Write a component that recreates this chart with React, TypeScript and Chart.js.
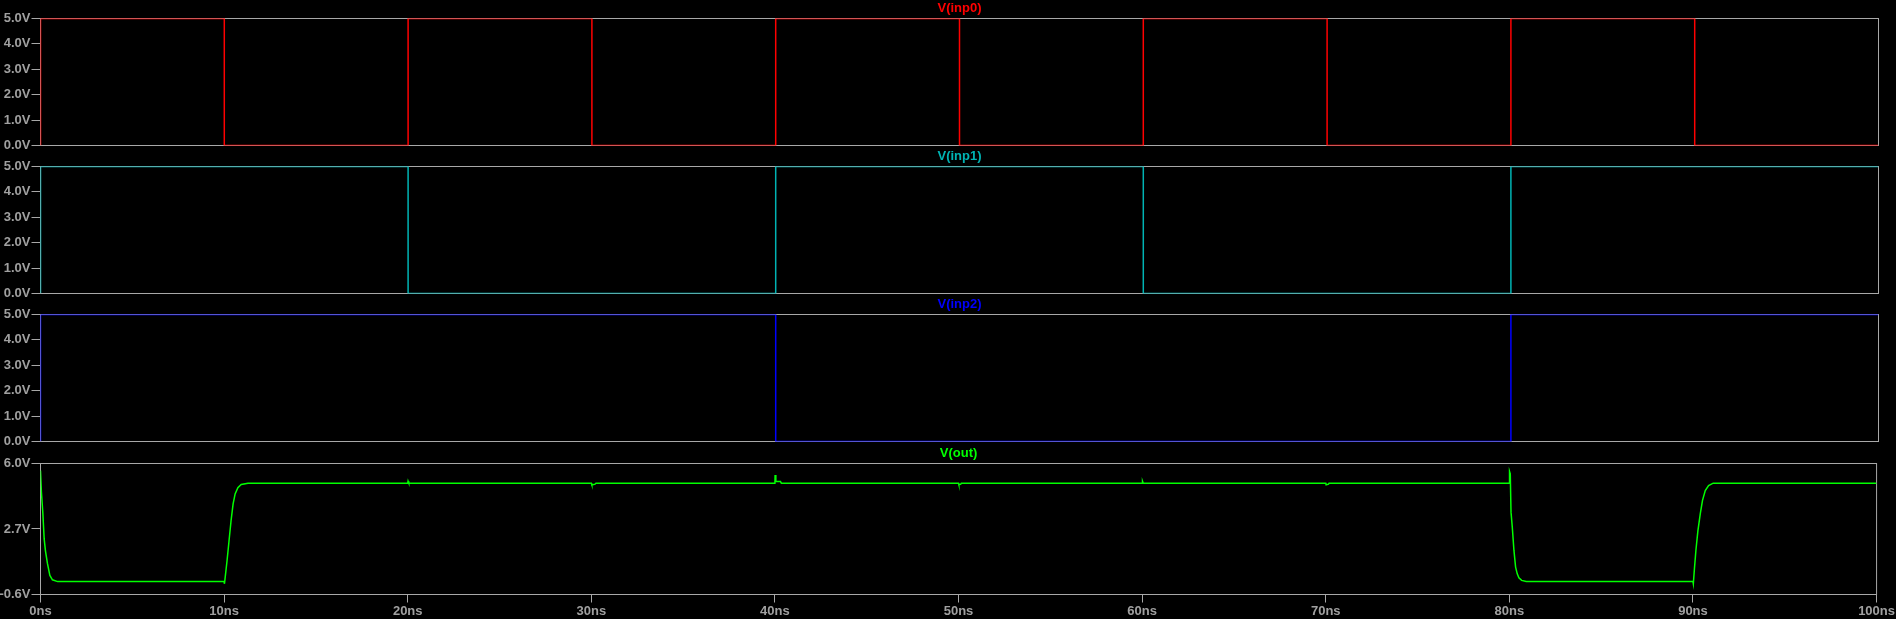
import React, { useEffect, useRef } from "react";
import { Chart, registerables } from "chart.js";

Chart.register(...registerables);

// ---- data ----
const timeTickLabels = ["0ns", "10ns", "20ns", "30ns", "40ns", "50ns", "60ns", "70ns", "80ns", "90ns", "100ns"];

const inp0Times = [0, 0, 10, 20, 30, 40, 50, 60, 70, 80, 90, 100];
const inp0Values = [0, 5, 0, 5, 0, 5, 0, 5, 0, 5, 0, 0];

const inp1Times = [0, 0, 20, 40, 60, 80, 100];
const inp1Values = [0, 5, 0, 5, 0, 5, 5];

const inp2Times = [0, 0, 40, 80, 100];
const inp2Values = [0, 5, 0, 5, 5];

const outTimes = [
  0, 0.05, 0.13, 0.2, 0.27, 0.38, 0.51, 0.65, 0.93,
  10.0, 10.02, 10.05, 10.16, 10.27, 10.38, 10.49, 10.6, 10.75, 10.93, 11.3,
  20.0, 20.02, 20.06,
  30.0, 30.03, 30.2, 30.25,
  40.0, 40.01, 40.05, 40.3, 40.35,
  50.0, 50.02, 50.12, 50.15,
  60.0, 60.02, 60.06,
  70.0, 70.02, 70.15, 70.18,
  80.0, 80.01, 80.05, 80.09, 80.16, 80.25, 80.34, 80.43, 80.52, 80.67, 80.92,
  90.0, 90.02, 90.08, 90.16, 90.27, 90.4, 90.52, 90.67, 90.85, 91.1,
  100,
];
const outValues = [
  5.65, 4.55, 3.47, 2.2, 1.6, 0.95, 0.36, 0.14, 0.05,
  0.05, -0.06, 0.19, 1.1, 2.12, 3.13, 3.97, 4.47, 4.78, 4.94, 5.01,
  5.01, 5.11, 5.01,
  5.01, 4.92, 4.96, 5.01,
  5.01, 5.42, 5.09, 5.09, 5.01,
  5.01, 4.93, 4.96, 5.01,
  5.01, 5.11, 5.01,
  5.01, 4.93, 4.96, 5.01,
  5.01, 5.6, 5.48, 3.55, 2.79, 1.62, 0.78, 0.44, 0.24, 0.11, 0.05,
  0.05, -0.06, 0.7, 1.62, 2.62, 3.47, 4.14, 4.64, 4.89, 5.01,
  5.01,
];

const inpYTicks = [0, 1, 2, 3, 4, 5];
const outYTicks = [-0.6, 2.7, 6.0];

// ---- styling ----
const FONT = { family: "'Liberation Sans', Arial, sans-serif", size: 13, weight: "bold" as const };
const GREY_TEXT = "#a0a0a0";
const GREY_LINE = "#a8a8a8";
const W = 1896;

type Panel = {
  label: string;
  color: string;
  times: number[];
  values: number[];
  stepped: boolean;
  yMin: number;
  yMax: number;
  yTicks: number[];
  canvasTop: number;
  canvasHeight: number;
  plotTop: number;
  plotBottom: number;
  showX: boolean;
};

const panels: Panel[] = [
  { label: "V(inp0)", color: "#ff0000", times: inp0Times, values: inp0Values, stepped: true, yMin: 0, yMax: 5, yTicks: inpYTicks, canvasTop: 0, canvasHeight: 156, plotTop: 18, plotBottom: 145, showX: false },
  { label: "V(inp1)", color: "#00b4b4", times: inp1Times, values: inp1Values, stepped: true, yMin: 0, yMax: 5, yTicks: inpYTicks, canvasTop: 148, canvasHeight: 156, plotTop: 166, plotBottom: 293, showX: false },
  { label: "V(inp2)", color: "#0000ff", times: inp2Times, values: inp2Values, stepped: true, yMin: 0, yMax: 5, yTicks: inpYTicks, canvasTop: 296, canvasHeight: 156, plotTop: 314, plotBottom: 441, showX: false },
  { label: "V(out)", color: "#00ff00", times: outTimes, values: outValues, stepped: false, yMin: -0.6, yMax: 6.0, yTicks: outYTicks, canvasTop: 445, canvasHeight: 174, plotTop: 463, plotBottom: 594, showX: true },
];

const PLOT_LEFT = 40.5;
const PLOT_RIGHT = 1878.5;
const X_AXIS_HEIGHT = 25;

function makeChart(canvas: HTMLCanvasElement, p: Panel) {
  const framePlugin = {
    id: "frame" + p.label.replace(/[^a-z0-9]/gi, ""),
    beforeDatasetsDraw(chart: any) {
      const { ctx, chartArea } = chart;
      ctx.save();
      ctx.strokeStyle = GREY_LINE;
      ctx.lineWidth = 1;
      ctx.strokeRect(chartArea.left, chartArea.top, chartArea.right - chartArea.left, chartArea.bottom - chartArea.top);
      ctx.restore();
    },
    afterDraw(chart: any) {
      const { ctx, chartArea } = chart;
      ctx.save();
      ctx.font = `bold ${FONT.size}px ${FONT.family}`;
      ctx.fillStyle = p.color;
      ctx.textAlign = "center";
      ctx.textBaseline = "middle";
      ctx.fillText(p.label, (chartArea.left + chartArea.right) / 2, chartArea.top - 10);
      ctx.restore();
    },
  };

  const padTop = p.plotTop + 0.5 - p.canvasTop;
  const padBottom = p.showX
    ? p.canvasTop + p.canvasHeight - (p.plotBottom + 0.5) - X_AXIS_HEIGHT
    : p.canvasTop + p.canvasHeight - (p.plotBottom + 0.5);

  return new Chart(canvas, {
    type: "line",
    data: {
      datasets: [
        {
          label: p.label,
          data: p.times.map((t, i) => ({ x: t, y: p.values[i] })),
          borderColor: p.color,
          backgroundColor: p.color,
          borderWidth: 1.5,
          pointRadius: 0,
          stepped: p.stepped,
          tension: 0,
          fill: false,
        },
      ],
    },
    options: {
      animation: false,
      responsive: false,
      maintainAspectRatio: false,
      layout: {
        padding: { left: 0, right: W - PLOT_RIGHT, top: padTop, bottom: padBottom },
      },
      plugins: {
        legend: { display: false },
        tooltip: { enabled: false },
        title: { display: false },
      },
      scales: {
        x: {
          type: "linear",
          min: 0,
          max: 100,
          display: p.showX,
          afterFit: (scale: any) => {
            if (p.showX) scale.height = X_AXIS_HEIGHT;
          },
          afterBuildTicks: (scale: any) => {
            scale.ticks = timeTickLabels.map((_, i) => ({ value: i * 10 }));
          },
          ticks: {
            autoSkip: false,
            maxRotation: 0,
            minRotation: 0,
            padding: 1,
            color: GREY_TEXT,
            font: FONT,
            callback: (_v: any, i: number) => timeTickLabels[i],
          },
          grid: { drawOnChartArea: false, drawTicks: true, tickLength: 8, color: GREY_LINE, lineWidth: 1 },
          border: { display: false },
        },
        y: {
          type: "linear",
          min: p.yMin,
          max: p.yMax,
          afterFit: (scale: any) => {
            scale.width = PLOT_LEFT;
          },
          afterBuildTicks: (scale: any) => {
            scale.ticks = p.yTicks.map((v) => ({ value: v }));
          },
          ticks: {
            autoSkip: false,
            padding: 1,
            color: GREY_TEXT,
            font: FONT,
            callback: (v: any) => Number(v).toFixed(1) + "V",
          },
          grid: { drawOnChartArea: false, drawTicks: true, tickLength: 9, color: GREY_LINE, lineWidth: 1 },
          border: { display: false },
        },
      },
    },
    plugins: [framePlugin],
  } as any);
}

function PanelCanvas({ p }: { p: Panel }) {
  const ref = useRef<HTMLCanvasElement | null>(null);
  useEffect(() => {
    if (!ref.current) return;
    const chart = makeChart(ref.current, p);
    return () => chart.destroy();
  }, [p]);
  return (
    <canvas
      ref={ref}
      width={W}
      height={p.canvasHeight}
      style={{ position: "absolute", left: 0, top: p.canvasTop, width: W, height: p.canvasHeight }}
    />
  );
}

export default function App() {
  return (
    <div style={{ position: "fixed", left: 0, top: 0, width: W, height: 619, background: "#000000", overflow: "hidden" }}>
      {panels.map((p) => (
        <PanelCanvas key={p.label} p={p} />
      ))}
    </div>
  );
}
